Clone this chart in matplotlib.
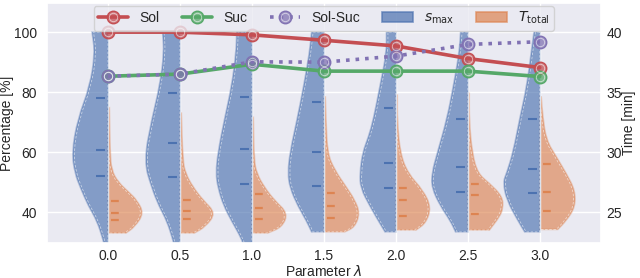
import numpy as np
import matplotlib
matplotlib.use('Agg')
import matplotlib.pyplot as plt
import seaborn as sns
from matplotlib.path import Path
from matplotlib.patches import PathPatch, Patch

sns.set_theme(style='darkgrid')
plt.rcParams['font.family'] = ['Liberation Sans', 'DejaVu Sans']

# categorias (parametro lambda)
lambdas = ['0.0', '0.5', '1.0', '1.5', '2.0', '2.5', '3.0']

# curvas em percentagem
sol = [100, 100, 99.1, 97.3, 95.4, 91.2, 88.2]
suc = [85.3, 86, 89.3, 87, 87, 87, 85.2]
sol_suc = [85.3, 86, 90.1, 90, 92, 95.9, 96.8]

# perfil dos violinos s_max (nivel em %, meia largura), de cima para baixo
s_levels = [
    [100, 93, 82, 71, 60, 53, 48, 42, 37, 31, 29],
    [100, 93, 82, 71, 57, 48, 42, 37, 31, 29],
    [100, 93, 82, 71, 60, 53, 48, 42, 37, 31, 29],
    [100, 93, 82, 71, 60, 53, 48, 42, 37, 33.4],
    [100, 93, 82, 71, 65, 60, 53, 48, 42, 37, 33.4],
    [100, 93, 82, 71, 60, 53, 48, 42, 37, 33.4],
    [100, 93, 82, 71, 60, 53, 50, 44, 37, 33.4],
]
s_widths = [
    [0.22, 0.18, 0.25, 0.42, 0.50, 0.46, 0.38, 0.27, 0.15, 0.07, 0.05],
    [0.24, 0.22, 0.28, 0.39, 0.50, 0.39, 0.29, 0.18, 0.10, 0.08],
    [0.21, 0.22, 0.28, 0.38, 0.47, 0.50, 0.47, 0.39, 0.28, 0.14, 0.12],
    [0.17, 0.20, 0.28, 0.37, 0.47, 0.50, 0.47, 0.36, 0.24, 0.17],
    [0.13, 0.13, 0.22, 0.31, 0.38, 0.46, 0.50, 0.49, 0.36, 0.24, 0.15],
    [0.10, 0.12, 0.20, 0.29, 0.42, 0.50, 0.50, 0.38, 0.24, 0.17],
    [0.08, 0.12, 0.18, 0.28, 0.37, 0.46, 0.51, 0.46, 0.30, 0.21],
]
s_quart = [
    [78.2, 60.7, 52.0],
    [79.6, 63.1, 51.8],
    [78.4, 61.0, 49.3],
    [76.8, 59.9, 48.8],
    [74.6, 56.4, 48.1],
    [71.0, 55.1, 46.8],
    [70.9, 54.2, 46.2],
]

# perfil dos violinos T_total (nivel em min, meia largura)
t_levels = [
    [33.7, 30, 28.5, 27.5, 26.6, 26, 24.9, 23.75, 23.25],
    [33.25, 29.3, 28.2, 27.1, 26, 24.9, 23.75, 23.25],
    [32.9, 29.3, 28.2, 27.1, 26, 24.9, 23.75, 23.25],
    [34.6, 32.6, 29.9, 28.5, 27.1, 26, 24.9, 23.75, 23.35],
    [34.75, 32.6, 29.9, 28.2, 26.8, 25.4, 24.1, 23.5],
    [34.9, 32.6, 29.9, 28.2, 27.4, 26.3, 25.3, 24.6, 23.5],
    [34.6, 33, 31, 29.6, 28.2, 26.8, 25.4, 24.3, 23.55],
]
t_widths = [
    [0.02, 0.03, 0.05, 0.14, 0.30, 0.40, 0.50, 0.37, 0.25],
    [0.02, 0.04, 0.08, 0.18, 0.32, 0.50, 0.35, 0.20],
    [0.02, 0.03, 0.07, 0.17, 0.31, 0.50, 0.42, 0.22],
    [0.02, 0.03, 0.05, 0.15, 0.31, 0.43, 0.50, 0.43, 0.29],
    [0.02, 0.02, 0.06, 0.17, 0.38, 0.49, 0.42, 0.28],
    [0.02, 0.02, 0.06, 0.14, 0.30, 0.48, 0.49, 0.44, 0.30],
    [0.02, 0.04, 0.09, 0.23, 0.37, 0.49, 0.49, 0.37, 0.25],
]
t_quart = [
    [25.9, 24.95, 24.3],
    [26.0, 25.1, 24.4],
    [26.5, 25.3, 24.45],
    [26.6, 25.5, 24.5],
    [27.0, 26.0, 24.7],
    [27.3, 26.4, 24.8],
    [29.0, 26.7, 25.1],
]

pal = sns.color_palette('deep')
c_blue, c_orange, c_green, c_red, c_purple = pal[0], pal[1], pal[2], pal[3], pal[4]


def meio_violino(centro, niveis, larguras, lado):
    # caminho suave de meio violino (curvas quadraticas do matplotlib)
    xs = [centro + lado * w for w in larguras]
    ys = list(niveis)
    verts = [(centro, ys[0]), (xs[0], ys[0])]
    codes = [Path.MOVETO, Path.LINETO]
    verts.append(((xs[0] + xs[1]) / 2, (ys[0] + ys[1]) / 2))
    codes.append(Path.LINETO)
    for k in range(1, len(xs) - 1):
        verts += [(xs[k], ys[k]), ((xs[k] + xs[k + 1]) / 2, (ys[k] + ys[k + 1]) / 2)]
        codes += [Path.CURVE3, Path.CURVE3]
    verts += [(xs[-1], ys[-1]), (centro, ys[-1]), (centro, ys[0])]
    codes += [Path.LINETO, Path.LINETO, Path.CLOSEPOLY]
    return Path(verts, codes)


def desenha(ax, caminho, cor, caminho_int):
    ax.add_patch(PathPatch(caminho, facecolor=cor, alpha=0.65, edgecolor='none', zorder=2))
    ax.add_patch(PathPatch(caminho, facecolor='none', edgecolor=cor, alpha=0.35, lw=1.2, zorder=2))
    ax.add_patch(PathPatch(caminho_int, facecolor='none', edgecolor='white', alpha=0.55,
                           lw=0.6, ls=(0, (3, 2)), zorder=2))


fig = plt.figure(figsize=(6.4, 2.78), dpi=100)
ax = fig.add_subplot(111)
ax2 = ax.twinx()
fig.subplots_adjust(left=0.073, right=0.939, bottom=0.126, top=0.989)

# eixo de baixo (tempo) com o fundo e a grade horizontal
ax.set_zorder(ax2.get_zorder() + 1)
ax.patch.set_visible(False)
ax2.patch.set_visible(True)
ax2.patch.set_facecolor('#EAEAF2')
ax.grid(False)
ax.grid(True, axis='x')
ax.set_axisbelow(True)
ax2.grid(True, axis='y')

x = np.arange(len(lambdas))

for i in range(len(lambdas)):
    wi = [max(w - 0.02, 0.0) for w in s_widths[i]]
    desenha(ax, meio_violino(i, s_levels[i], s_widths[i], -1), c_blue,
            meio_violino(i, s_levels[i], wi, -1))
    ax.hlines(s_quart[i], i - 0.16, i - 0.04, color=c_blue, lw=1.5, zorder=3)
    wi = [max(w - 0.02, 0.0) for w in t_widths[i]]
    desenha(ax2, meio_violino(i, t_levels[i], t_widths[i], 1), c_orange,
            meio_violino(i, t_levels[i], wi, 1))
    ax2.hlines(t_quart[i], i + 0.045, i + 0.165, color=c_orange, lw=1.6,
               linestyles=(0, (3.5, 1)), zorder=3)


def linha(valores, cor, ls):
    l1, = ax.plot(x, valores, ls=ls, color=cor, lw=2.6, marker='o', ms=9,
                  mfc=(*cor, 0.75), mec=cor, mew=1.0, zorder=5,
                  dash_capstyle='butt')
    l2, = ax.plot(x, valores, ls='none', marker='o', ms=6, mfc='none',
                  mec='white', mew=0.7, alpha=0.55, zorder=6)
    return (l1, l2)


h_sol = linha(sol, c_red, '-')
h_suc = linha(suc, c_green, '-')
h_ss = linha(sol_suc, c_purple, ':')

ax.set_xlim(-0.85, 6.85)
ax.set_ylim(29.7, 109.7)
ax2.set_ylim(22.42, 42.42)
ax.set_xticks(x)
ax.set_xticklabels(lambdas)
ax.set_yticks([40, 60, 80, 100])
ax2.set_yticks([25, 30, 35, 40])
ax.tick_params(axis='x', labelsize=10, length=0, pad=4)
ax.tick_params(axis='y', labelsize=10, length=0, pad=7)
ax2.tick_params(axis='y', labelsize=10, length=0, pad=4)
ax.set_xlabel(r'Parameter $\lambda$', fontsize=10, labelpad=1)
ax.set_ylabel('Percentage [%]', fontsize=10, labelpad=0)
ax2.set_ylabel('Time [min]', fontsize=10, labelpad=0)
for s in ax2.spines.values():
    s.set_visible(False)

p_s = Patch(facecolor=c_blue, alpha=0.7, edgecolor=c_blue, lw=1.2)
p_t = Patch(facecolor=c_orange, alpha=0.7, edgecolor=c_orange, lw=1.2)
ax.legend([h_sol, h_suc, h_ss, p_s, p_t],
          ['Sol', 'Suc', 'Sol-Suc', r'$s_{\max}$', r'$T_{\mathrm{total}}$'],
          loc='upper center', ncol=5, fontsize=10, handlelength=2.2,
          columnspacing=1.6, borderaxespad=0.2, borderpad=0.3, frameon=True)

fig.savefig('out.png', dpi=100)
